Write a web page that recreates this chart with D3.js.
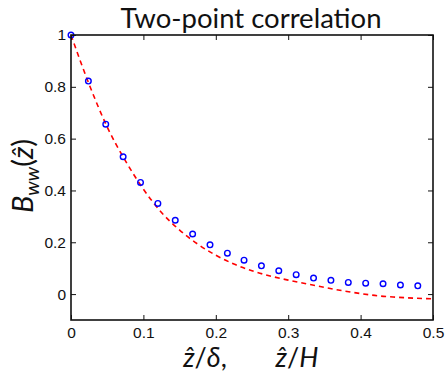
<!DOCTYPE html>
<html>
<head>
<meta charset="utf-8">
<script src="https://cdn.jsdelivr.net/npm/d3@7/dist/d3.min.js"></script>
<style>
  html, body { margin: 0; padding: 0; background: #fff; }
  svg { display: block; }
</style>
</head>
<body>
<svg id="chart" width="445" height="373"></svg>
<script>
// Measured two-point correlation (circles)
const sepMeasured = [0, 0.024, 0.048, 0.072, 0.096, 0.120, 0.144, 0.168, 0.192, 0.216,
                     0.239, 0.263, 0.287, 0.311, 0.335, 0.359, 0.383, 0.407, 0.431, 0.455, 0.479];
const corrMeasured = [1.0, 0.822, 0.656, 0.530, 0.431, 0.350, 0.285, 0.232, 0.190, 0.158,
                      0.131, 0.109, 0.090, 0.075, 0.062, 0.053, 0.045, 0.042, 0.040, 0.035, 0.032];

// Model curve (dashed)
const sepModel = [0, 0.025, 0.05, 0.075, 0.1, 0.125, 0.15, 0.175, 0.2, 0.225, 0.25,
                  0.275, 0.3, 0.325, 0.35, 0.375, 0.4, 0.425, 0.45, 0.475, 0.5];
const corrModel = [1.0, 0.81, 0.645, 0.515, 0.405, 0.315, 0.247, 0.193, 0.150, 0.116, 0.090,
                   0.070, 0.054, 0.040, 0.026, 0.013, 0.002, -0.007, -0.012, -0.016, -0.018];

const xTicks = [0, 0.1, 0.2, 0.3, 0.4, 0.5];
const yTicks = [0, 0.2, 0.4, 0.6, 0.8, 1];

const svg = d3.select("#chart");
const plotLeft = 71, plotRight = 433, plotTop = 35, plotBottom = 320;

const x = d3.scaleLinear().domain([0, 0.5]).range([plotLeft, plotRight]);
const y = d3.scaleLinear().domain([-0.1, 1]).range([plotBottom, plotTop]);

const tickFont = "'Liberation Sans', Arial, Helvetica, sans-serif";
const mathFont = "Lato, 'Open Sans', sans-serif";

// Model curve
const line = d3.line()
  .x((d, i) => x(sepModel[i]))
  .y(d => y(d))
  .curve(d3.curveMonotoneX);

svg.append("path")
  .datum(corrModel)
  .attr("d", line)
  .attr("fill", "none")
  .attr("stroke", "#ff0000")
  .attr("stroke-width", 1.6)
  .attr("stroke-dasharray", "5,4");

// Measured points
svg.append("g")
  .selectAll("circle")
  .data(corrMeasured)
  .join("circle")
  .attr("cx", (d, i) => x(sepMeasured[i]))
  .attr("cy", d => y(d))
  .attr("r", 2.8)
  .attr("fill", "none")
  .attr("stroke", "#0000ff")
  .attr("stroke-width", 1.4);

// Axes with inward ticks on all four sides
const tickLen = 5;
function styleAxis(g) {
  g.select(".domain").remove();
  g.selectAll(".tick line").attr("stroke", "#111").attr("stroke-width", 1);
  g.selectAll(".tick text")
    .attr("fill", "#111")
    .style("font-family", tickFont)
    .style("font-size", "15.5px");
}

svg.append("g")
  .attr("transform", `translate(0,${plotBottom})`)
  .call(d3.axisBottom(x).tickValues(xTicks).tickSize(-tickLen).tickPadding(7)
        .tickFormat(d => d3.format("")(d)))
  .call(styleAxis);

svg.append("g")
  .attr("transform", `translate(0,${plotTop})`)
  .call(d3.axisTop(x).tickValues(xTicks).tickSize(-tickLen).tickFormat(""))
  .call(styleAxis);

svg.append("g")
  .attr("transform", `translate(${plotLeft},0)`)
  .call(d3.axisLeft(y).tickValues(yTicks).tickSize(-tickLen).tickPadding(5)
        .tickFormat(d => d3.format("")(d)))
  .call(styleAxis);

svg.append("g")
  .attr("transform", `translate(${plotRight},0)`)
  .call(d3.axisRight(y).tickValues(yTicks).tickSize(-tickLen).tickFormat(""))
  .call(styleAxis);

// Axes box
svg.append("rect")
  .attr("x", plotLeft).attr("y", plotTop)
  .attr("width", plotRight - plotLeft).attr("height", plotBottom - plotTop)
  .attr("fill", "none")
  .attr("stroke", "#111")
  .attr("stroke-width", 1.6);

// Title
svg.append("text")
  .attr("x", 251).attr("y", 28)
  .attr("text-anchor", "middle")
  .attr("textLength", 261)
  .attr("lengthAdjust", "spacingAndGlyphs")
  .style("font-family", mathFont)
  .style("font-size", "27px")
  .attr("fill", "#111")
  .text("Two-point correlation");

// y label: B_ww(ẑ)
const yl = svg.append("text")
  .attr("transform", "translate(33,176) rotate(-90)")
  .attr("text-anchor", "middle")
  .style("font-family", mathFont)
  .style("font-size", "29px")
  .attr("fill", "#111");
yl.append("tspan").style("font-style", "italic").text("B");
yl.append("tspan").style("font-style", "italic").style("font-size", "20px").attr("dy", 6).text("ww");
yl.append("tspan").attr("dy", -6).text("(");
yl.append("tspan").style("font-style", "italic").text("ẑ");
yl.append("tspan").text(")");

// x label: ẑ/δ,  ẑ/H
function xlabelPart(cx, sym) {
  const t = svg.append("text")
    .attr("x", cx).attr("y", 367)
    .attr("text-anchor", "middle")
    .style("font-family", mathFont)
    .style("font-size", "27px")
    .attr("fill", "#111");
  t.append("tspan").style("font-style", "italic").text("ẑ");
  t.append("tspan").text("/");
  t.append("tspan").style("font-style", "italic").text(sym);
  return t;
}
const p1 = xlabelPart(205, "δ");
p1.append("tspan").text(",");
xlabelPart(297, "H");
</script>
</body>
</html>
